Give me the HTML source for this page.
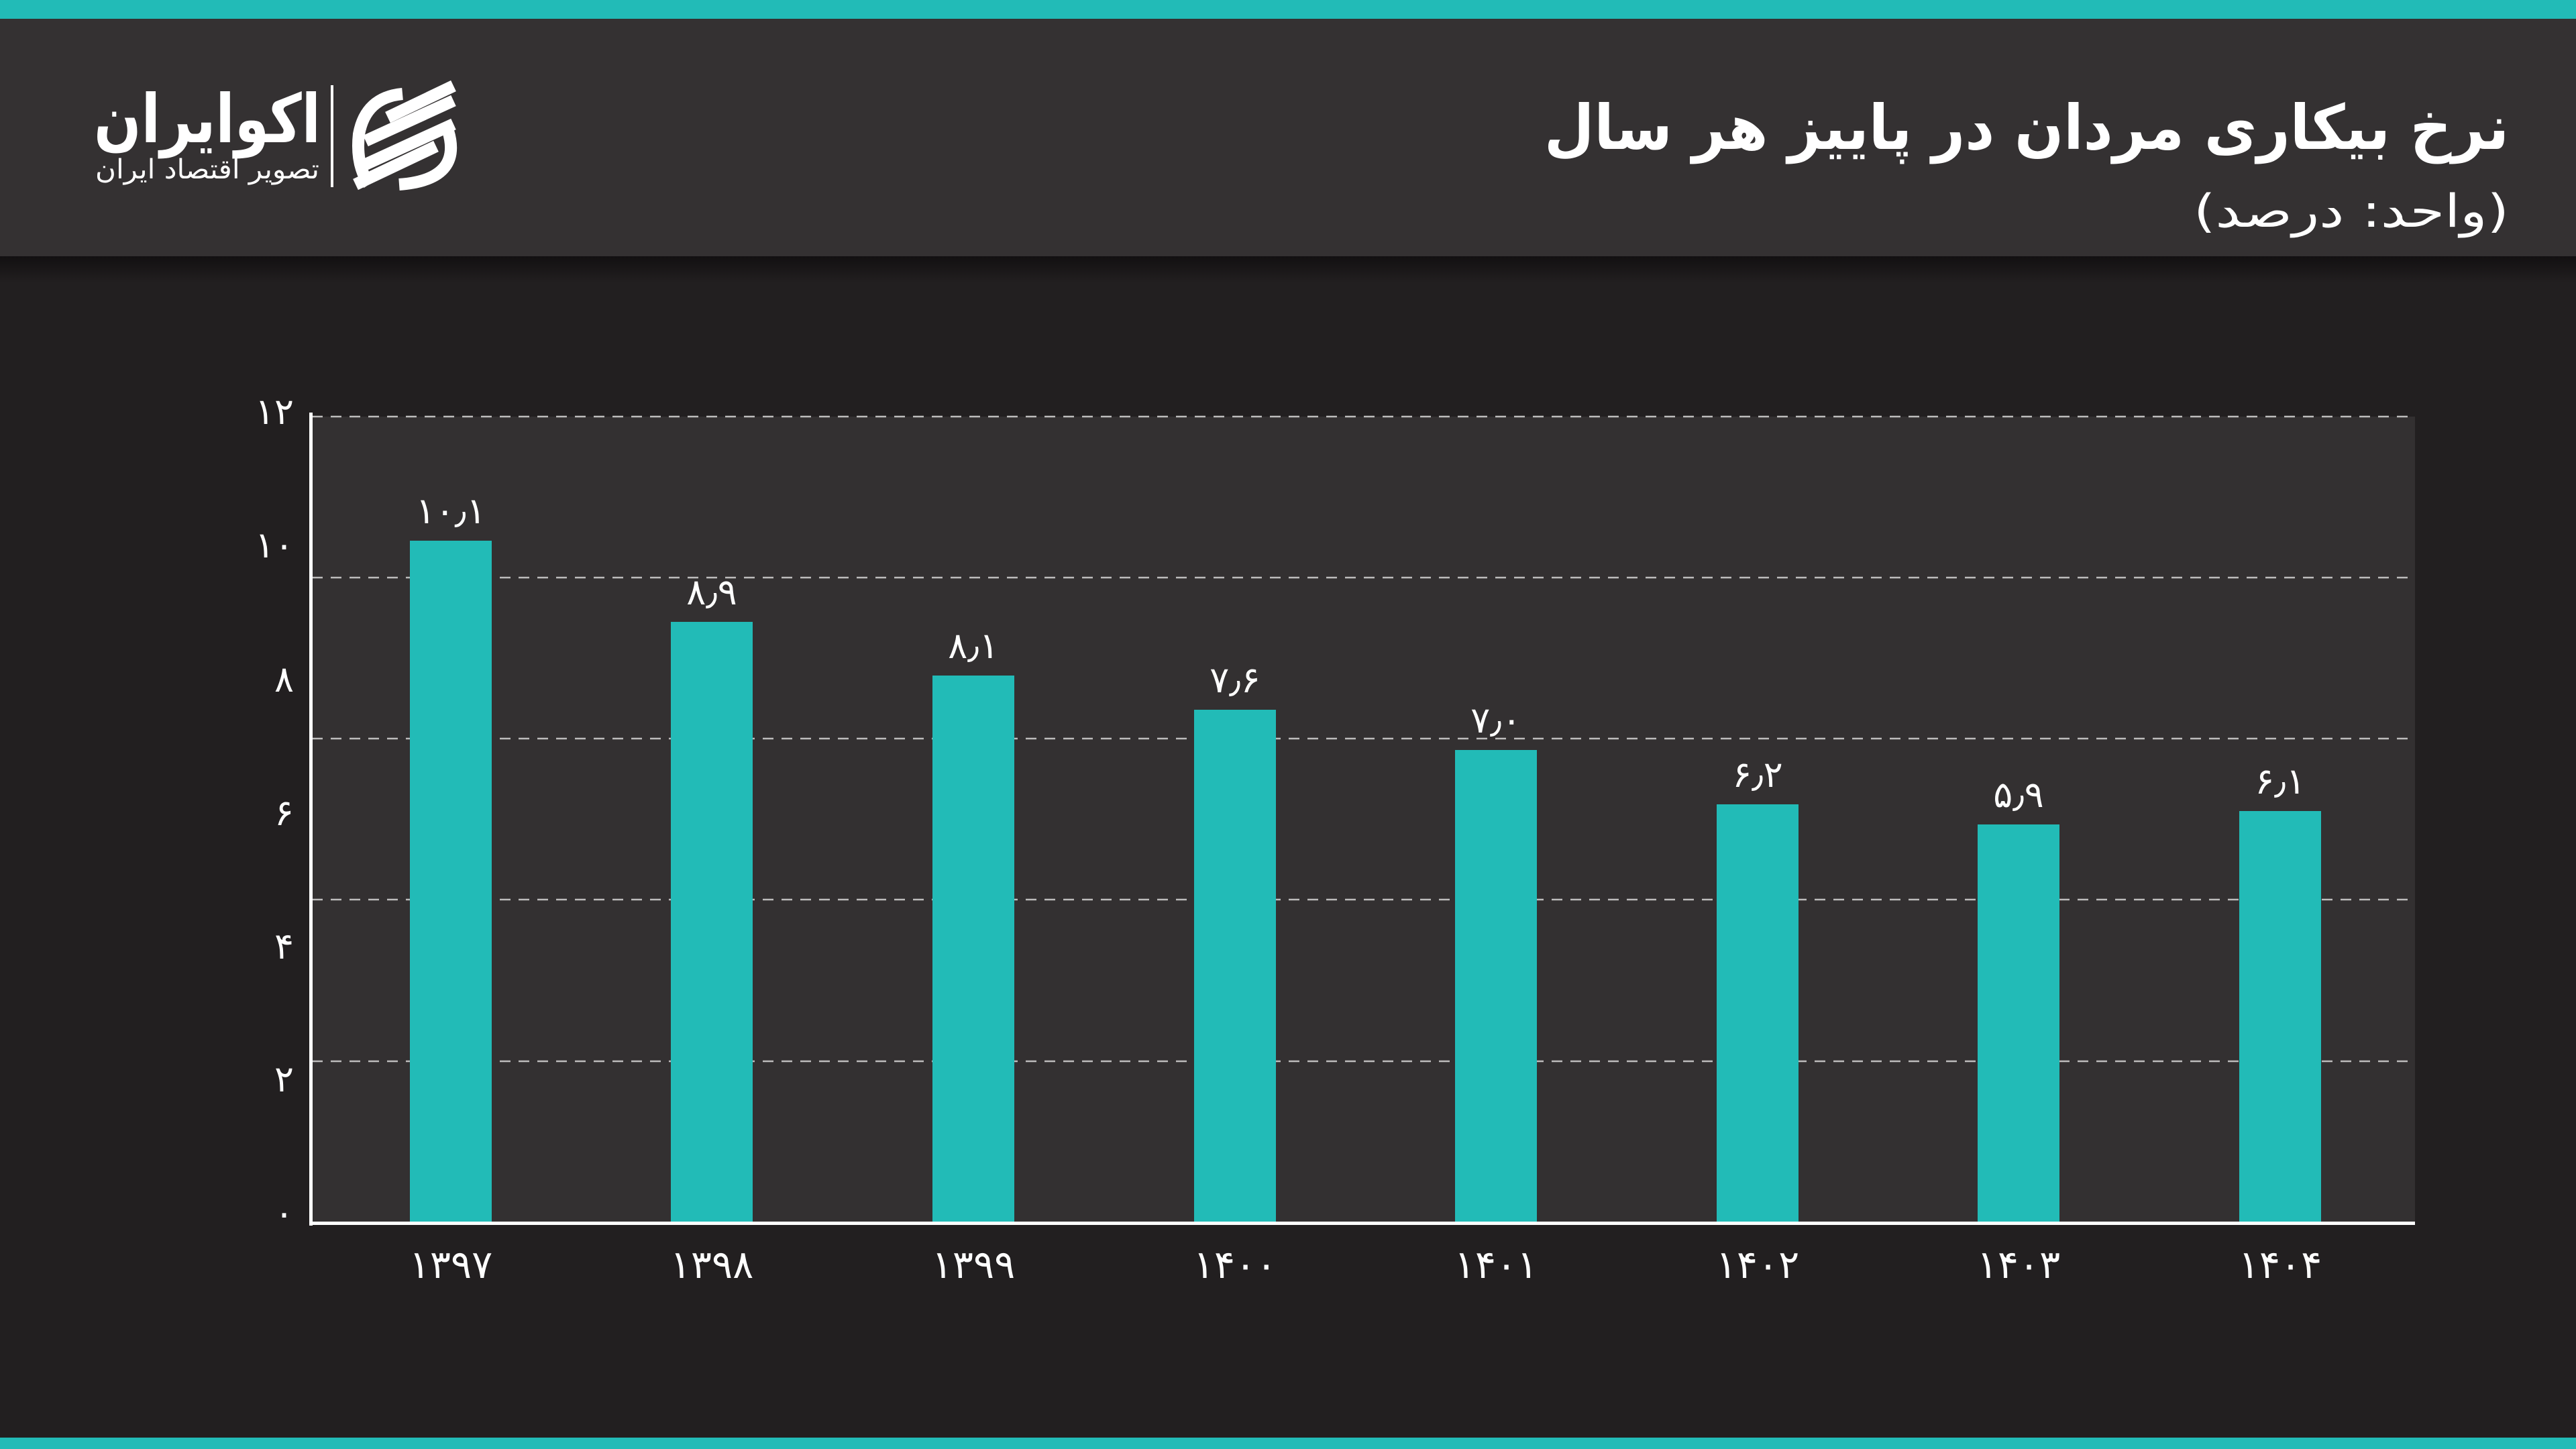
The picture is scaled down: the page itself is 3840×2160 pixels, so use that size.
<!DOCTYPE html>
<html><head><meta charset="utf-8"><style>
html,body{margin:0;padding:0;width:3840px;height:2160px;overflow:hidden;background:#221f20;}
svg{display:block}
</style></head><body>
<svg width="3840" height="2160" viewBox="0 0 3840 2160" xmlns="http://www.w3.org/2000/svg" font-family="'DejaVu Sans', sans-serif">
<defs>
<linearGradient id="sh" x1="0" y1="0" x2="0" y2="1"><stop offset="0" stop-color="#121011"/><stop offset="1" stop-color="#221f20"/></linearGradient>
</defs>
<rect width="3840" height="2160" fill="#221f20"/>
<rect x="0" y="0" width="3840" height="28" fill="#22bbb7"/>
<rect x="0" y="28" width="3840" height="354" fill="#343132"/>
<rect x="0" y="382" width="3840" height="40" fill="url(#sh)"/>
<rect x="0" y="2143" width="3840" height="17" fill="#22bbb7"/>

<!-- title -->
<text x="3740" y="222" text-anchor="start" direction="rtl" fill="#fff" font-size="92" font-weight="bold" textLength="1438" lengthAdjust="spacingAndGlyphs">نرخ بیکاری مردان در پاییز هر سال</text>
<text x="3740" y="338" text-anchor="start" direction="rtl" fill="#fff" font-size="68" textLength="470" lengthAdjust="spacingAndGlyphs">(واحد: درصد)</text>

<!-- logo -->
<text x="478" y="212" text-anchor="start" direction="rtl" fill="#fff" font-size="100" font-weight="bold" textLength="338" lengthAdjust="spacingAndGlyphs">اکوایران</text>
<text x="476" y="266" text-anchor="start" direction="rtl" fill="#fff" font-size="40" textLength="334" lengthAdjust="spacingAndGlyphs">تصویر اقتصاد ایران</text>
<rect x="493" y="127" width="4" height="152" fill="#fff"/>
<g fill="none" stroke="#fff" stroke-width="18" stroke-linecap="butt">
<path d="M600 140 Q545 145 535 200 Q530 245 550 275"/>
<path d="M578 175 L676 128"/>
<path d="M545 210 L676 150"/>
<path d="M545 245 L676 185"/>
<path d="M530 275 L650 218"/>
<path d="M668 195 Q690 268 595 275"/>
</g>

<!-- plot area -->
<rect x="463" y="621" width="3137" height="1202" fill="#333031"/>
<g stroke="#bdbcbc" stroke-width="2.5" stroke-dasharray="16 12">
<line x1="465" y1="621" x2="3600" y2="621"/>
<line x1="465" y1="861" x2="3600" y2="861"/>
<line x1="465" y1="1101" x2="3600" y2="1101"/>
<line x1="465" y1="1341" x2="3600" y2="1341"/>
<line x1="465" y1="1582" x2="3600" y2="1582"/>
</g>

<!-- bars -->
<g fill="#22bbb7">
<rect x="611" y="806" width="122" height="1017"/>
<rect x="1000" y="927" width="122" height="896"/>
<rect x="1390" y="1007" width="122" height="816"/>
<rect x="1780" y="1058" width="122" height="765"/>
<rect x="2169" y="1118" width="122" height="705"/>
<rect x="2559" y="1199" width="122" height="624"/>
<rect x="2948" y="1229" width="122" height="594"/>
<rect x="3338" y="1209" width="122" height="614"/>
</g>

<!-- axes -->
<rect x="461" y="615" width="5" height="1212" fill="#fff"/>
<rect x="461" y="1821" width="3139" height="5" fill="#fff"/>

<!-- y labels -->
<g fill="#fff" font-size="54" text-anchor="end">
<text x="438" y="632">۱۲</text>
<text x="438" y="831">۱۰</text>
<text x="438" y="1031">۸</text>
<text x="438" y="1230">۶</text>
<text x="438" y="1429">۴</text>
<text x="438" y="1627">۲</text>
<text x="438" y="1827">۰</text>
</g>

<!-- value labels -->
<g fill="#fff" font-size="54" text-anchor="middle">
<text x="672" y="780">۱۰٫۱</text>
<text x="1061" y="901">۸٫۹</text>
<text x="1451" y="981">۸٫۱</text>
<text x="1841" y="1032">۷٫۶</text>
<text x="2230" y="1092">۷٫۰</text>
<text x="2620" y="1173">۶٫۲</text>
<text x="3009" y="1203">۵٫۹</text>
<text x="3399" y="1183">۶٫۱</text>
</g>

<!-- x labels -->
<g fill="#fff" font-size="58" text-anchor="middle">
<text x="672" y="1905">۱۳۹۷</text>
<text x="1061" y="1905">۱۳۹۸</text>
<text x="1451" y="1905">۱۳۹۹</text>
<text x="1841" y="1905">۱۴۰۰</text>
<text x="2230" y="1905">۱۴۰۱</text>
<text x="2620" y="1905">۱۴۰۲</text>
<text x="3009" y="1905">۱۴۰۳</text>
<text x="3399" y="1905">۱۴۰۴</text>
</g>
</svg>
</body></html>
